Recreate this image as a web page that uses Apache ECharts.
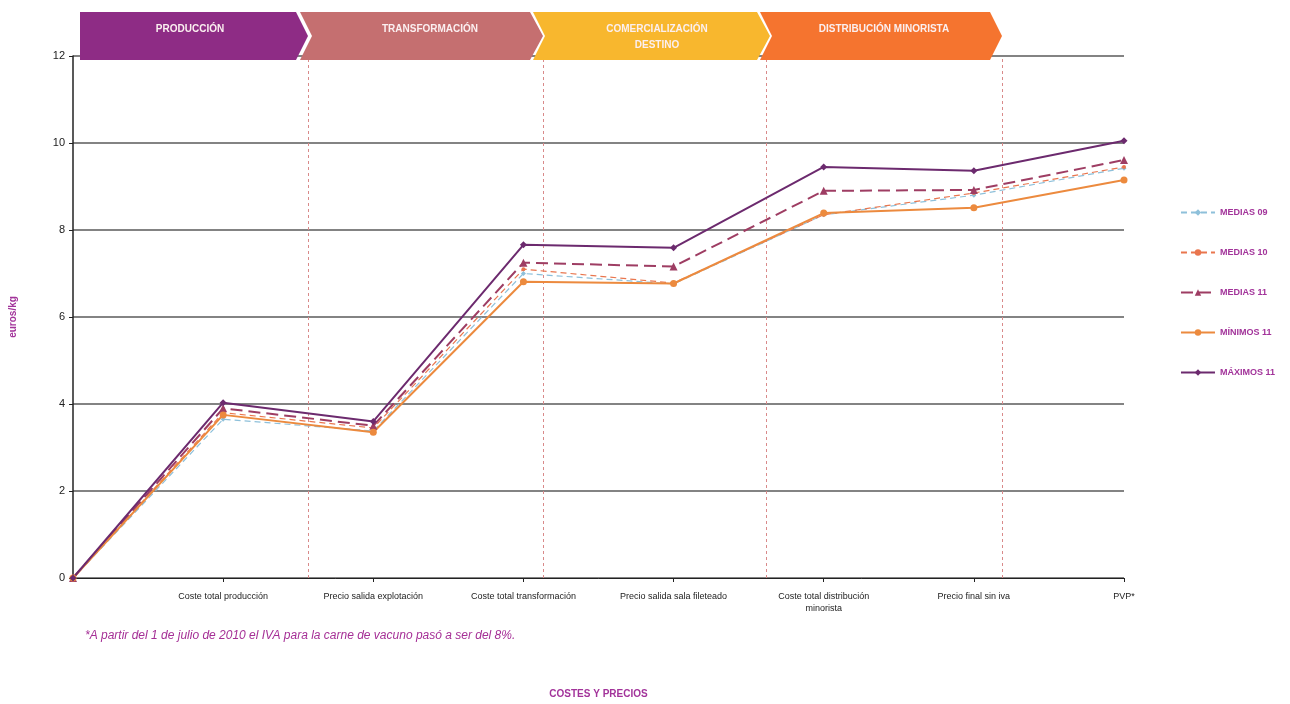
<!DOCTYPE html>
<html><head><meta charset="utf-8">
<script src="https://cdn.jsdelivr.net/npm/echarts@6/dist/echarts.min.js"></script>
<style>html,body{margin:0;padding:0;background:#fff}#c{width:1290px;height:704px}</style>
</head><body><div id="c"></div>
<script>
const categories = ["", "Coste total producción", "Precio salida explotación", "Coste total transformación", "Precio salida sala fileteado", "Coste total distribución\nminorista", "Precio final sin iva", "PVP*"];
const yTicks = [0, 2, 4, 6, 8, 10, 12];
const medias09 = [0, 3.65, 3.38, 7.0, 6.76, 8.35, 8.8, 9.42];
const medias10 = [0, 3.8, 3.45, 7.1, 6.78, 8.35, 8.85, 9.45];
const medias11 = [0, 3.9, 3.5, 7.25, 7.16, 8.9, 8.92, 9.61];
const minimos11 = [0, 3.75, 3.35, 6.81, 6.77, 8.39, 8.51, 9.15];
const maximos11 = [0, 4.03, 3.6, 7.66, 7.59, 9.45, 9.36, 10.05];
const phases = ["PRODUCCIÓN", "TRANSFORMACIÓN", "COMERCIALIZACIÓN\nDESTINO", "DISTRIBUCIÓN MINORISTA"];
const phaseBoundaries = [1.57, 3.13, 4.62, 6.19];

const phaseColors = ["#8E2C85", "#C56F70", "#F8B72E", "#F5742F"];
const chart = echarts.init(document.getElementById('c'));

// chevron banners (decorative)
const bx = [[80, 296, 308], [300, 530, 543], [533, 757, 770], [760, 990, 1002]];
const textCx = [190, 430, 657, 884];
const graphics = [];
bx.forEach((b, i) => {
  const [x0, x1, xp] = b, y0 = 12, y1 = 60, ym = 36;
  const pts = i === 0 ? [[x0, y0], [x1, y0], [xp, ym], [x1, y1], [x0, y1]]
    : [[x0, y0], [x1, y0], [xp, ym], [x1, y1], [x0, y1], [x0 + 12, ym]];
  graphics.push({type: 'polygon', shape: {points: pts}, style: {fill: phaseColors[i]}, z: 10});
  graphics.push({type: 'text', x: textCx[i], y: 21, z: 11,
    style: {text: phases[i], fill: '#FBEFF0', font: 'bold 10px "Liberation Sans", Arial', align: 'center', verticalAlign: 'top', lineHeight: 16}});
});
graphics.push({type: 'text', left: 85, top: 630,
  style: {text: '*A partir del 1 de julio de 2010 el IVA para la carne de vacuno pasó a ser del 8%.', fill: '#A52F96', font: 'italic 12px "Liberation Sans", Arial'}});

function ser(name, data, color, type, width, symbol, size) {
  return {name, type: 'line', data, color, symbol, symbolSize: size, showSymbol: true,
    lineStyle: {color, width, type}, itemStyle: {color}, z: 5};
}

chart.setOption({
  animation: false,
  backgroundColor: '#fff',
  graphic: graphics,
  grid: {left: 72, right: 166, top: 56, bottom: 125},
  legend: {
    orient: 'vertical', right: 10, top: 203, itemGap: 31, itemWidth: 34, itemHeight: 8,
    textStyle: {color: '#A2339A', fontSize: 9, fontWeight: 'bold', fontFamily: '"Liberation Sans", Arial'},
    data: ['MEDIAS 09', 'MEDIAS 10', 'MEDIAS 11', 'MÍNIMOS 11', 'MÁXIMOS 11']
  },
  xAxis: [{
    type: 'category', data: categories, boundaryGap: false,
    name: 'COSTES Y PRECIOS', nameLocation: 'middle', nameGap: 111,
    nameTextStyle: {color: '#A2339A', fontWeight: 'bold', fontSize: 10, fontFamily: '"Liberation Sans", Arial'},
    axisLine: {lineStyle: {color: '#222', width: 1}},
    axisTick: {show: true, alignWithLabel: true, length: 4, lineStyle: {color: '#222'}},
    axisLabel: {interval: 0, color: '#222', fontSize: 9, fontFamily: '"Liberation Sans", Arial', margin: 13, lineHeight: 12},
    splitLine: {show: false}
  }, {
    type: 'value', min: 0, max: 7, show: false
  }],
  yAxis: {
    type: 'value', min: 0, max: 12, interval: 2,
    name: 'euros/kg', nameLocation: 'middle', nameGap: 55, nameRotate: 90,
    nameTextStyle: {color: '#A2339A', fontWeight: 'bold', fontSize: 10, fontFamily: '"Liberation Sans", Arial'},
    axisLine: {show: true, lineStyle: {color: '#222', width: 1.5}},
    axisTick: {show: true, length: 4, lineStyle: {color: '#222'}},
    axisLabel: {color: '#222', fontSize: 11, fontFamily: '"Liberation Sans", Arial', margin: 8,
      formatter: v => yTicks.includes(v) ? String(v) : ''},
    splitLine: {lineStyle: {color: '#5a5a5a', width: 1.5}}
  },
  series: [
    {type: 'line', xAxisIndex: 1, data: [], silent: true,
      markLine: {symbol: 'none', silent: true, label: {show: false},
        lineStyle: {color: '#D98A8A', type: [3, 3], width: 1},
        data: phaseBoundaries.map(v => ({xAxis: v}))}},
    ser('MEDIAS 09', medias09, '#8EC0DA', [6, 4], 1.2, 'diamond', 5),
    ser('MEDIAS 10', medias10, '#E9764E', [6, 4], 1.2, 'circle', 4),
    ser('MEDIAS 11', medias11, '#9E3D63', [12, 6], 2, 'triangle', 8),
    ser('MÍNIMOS 11', minimos11, '#EC8A3E', 'solid', 2, 'circle', 7),
    ser('MÁXIMOS 11', maximos11, '#6C2A6E', 'solid', 2, 'diamond', 7)
  ]
});
</script></body></html>
